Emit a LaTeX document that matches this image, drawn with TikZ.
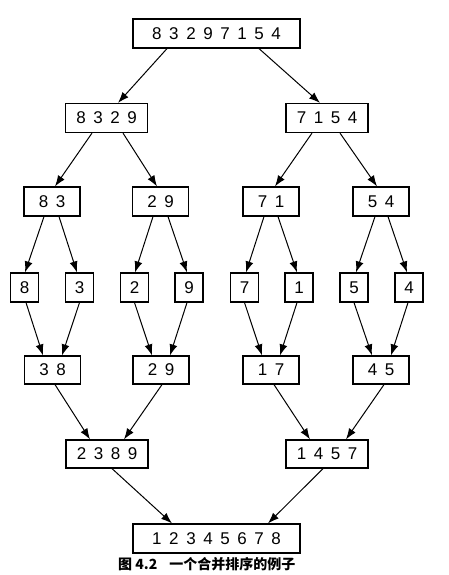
\documentclass[tikz,border=0pt]{standalone}
\usepackage{fontspec}
\setmainfont{Liberation Sans}[WordSpace={1.6,0,0}]
\newfontfamily\cjk{Noto Sans CJK SC}
\usetikzlibrary{arrows.meta}
\tikzset{
  box/.style={draw, line width=1.2pt, inner sep=0pt, minimum height=29pt,
    font=\fontsize{17}{20}\selectfont},
  single/.style={box, minimum width=28pt},
  pair/.style={box, minimum width=56pt},
  quad/.style={box, minimum width=82pt},
  octo/.style={box, minimum width=167pt},
  arr/.style={line width=1pt, -{Latex[length=11pt,width=8pt]}}
}
\begin{document}
\begin{tikzpicture}[x=1pt,y=-1pt]
\useasboundingbox (0,0) rectangle (448,575);
% level 0
\node[octo] (top) at (216.5,33.5) {8 3 2 9 7 1 5 4};
% level 1
\node[quad] (la) at (106.5,118) {8 3 2 9};
\node[quad] (lb) at (327,118) {7 1 5 4};
% level 2
\node[pair] (ma) at (52,201.5) {8 3};
\node[pair] (mb) at (160.5,201.5) {2 9};
\node[pair] (mc) at (271,201.5) {7 1};
\node[pair] (md) at (381,201.5) {5 4};
% level 3
\node[single] (s1) at (24.5,287.5) {8};
\node[single] (s2) at (79.5,287.5) {3};
\node[single] (s3) at (134.5,287.5) {2};
\node[single] (s4) at (189,287.5) {9};
\node[single] (s5) at (244.5,287.5) {7};
\node[single] (s6) at (299,287.5) {1};
\node[single] (s7) at (354,287.5) {5};
\node[single] (s8) at (409,287.5) {4};
% level 4
\node[pair, minimum height=28pt] (na) at (52.5,370) {3 8};
\node[pair, minimum height=28pt] (nb) at (161,370) {2 9};
\node[pair, minimum height=28pt] (nc) at (271,370) {1 7};
\node[pair, minimum height=28pt] (nd) at (381,370) {4 5};
% level 5
\node[quad, minimum height=28pt] (pa) at (107,454) {2 3 8 9};
\node[quad, minimum height=28pt] (pb) at (327,454) {1 4 5 7};
% bottom
\node[octo] (bot) at (216.5,538.5) {1 2 3 4 5 6 7 8};
% caption
\node[anchor=base west, inner sep=0pt, font=\cjk\bfseries\fontsize{14}{16}\selectfont] (cap) at (118,569.5) {图 4.2\hspace{12pt}一个合并排序的例子};

% arrows level 0 -> 1
\draw[arr] ([xshift=-49.5pt]top.south) -- ([xshift=11.5pt]la.north);
\draw[arr] ([xshift=42.5pt]top.south) -- ([xshift=-7pt]lb.north);
% level 1 -> 2
\draw[arr] ([xshift=-14.5pt]la.south) -- ([xshift=3pt]ma.north);
\draw[arr] ([xshift=16.5pt]la.south) -- ([xshift=-3.5pt]mb.north);
\draw[arr] ([xshift=-15pt]lb.south) -- ([xshift=4pt]mc.north);
\draw[arr] ([xshift=13pt]lb.south) -- ([xshift=-4pt]md.north);
% level 2 -> 3
\draw[arr] ([xshift=-8pt]ma.south) -- ([xshift=0.5pt]s1.north);
\draw[arr] ([xshift=7pt]ma.south) -- ([xshift=-2.5pt]s2.north);
\draw[arr] ([xshift=-7.5pt]mb.south) -- ([xshift=0.5pt]s3.north);
\draw[arr] ([xshift=7.5pt]mb.south) -- ([xshift=-2pt]s4.north);
\draw[arr] ([xshift=-7pt]mc.south) -- ([xshift=1.5pt]s5.north);
\draw[arr] ([xshift=7pt]mc.south) -- ([xshift=-2pt]s6.north);
\draw[arr] ([xshift=-6pt]md.south) -- ([xshift=2pt]s7.north);
\draw[arr] ([xshift=7pt]md.south) -- ([xshift=-2pt]s8.north);
% level 3 -> 4
\draw[arr] ([xshift=1.5pt]s1.south) -- ([xshift=-9.5pt]na.north);
\draw[arr] (s2.south) -- ([xshift=9.5pt]na.north);
\draw[arr] (s3.south) -- ([xshift=-9pt]nb.north);
\draw[arr] ([xshift=-2pt]s4.south) -- ([xshift=9pt]nb.north);
\draw[arr] (s5.south) -- ([xshift=-9pt]nc.north);
\draw[arr] ([xshift=-2pt]s6.south) -- ([xshift=9pt]nc.north);
\draw[arr] (s7.south) -- ([xshift=-9pt]nd.north);
\draw[arr] ([xshift=-1pt]s8.south) -- ([xshift=10pt]nd.north);
% level 4 -> 5
\draw[arr] ([xshift=2.5pt]na.south) -- ([xshift=-17pt]pa.north);
\draw[arr] ([xshift=1pt]nb.south) -- ([xshift=17pt]pa.north);
\draw[arr] ([xshift=3pt]nc.south) -- ([xshift=-17pt]pb.north);
\draw[arr] ([xshift=3pt]nd.south) -- ([xshift=19pt]pb.north);
% level 5 -> bottom
\draw[arr] ([xshift=5pt]pa.south) -- ([xshift=-44.5pt]bot.north);
\draw[arr] ([xshift=-4pt]pb.south) -- ([xshift=51.5pt]bot.north);
\end{tikzpicture}
\end{document}
